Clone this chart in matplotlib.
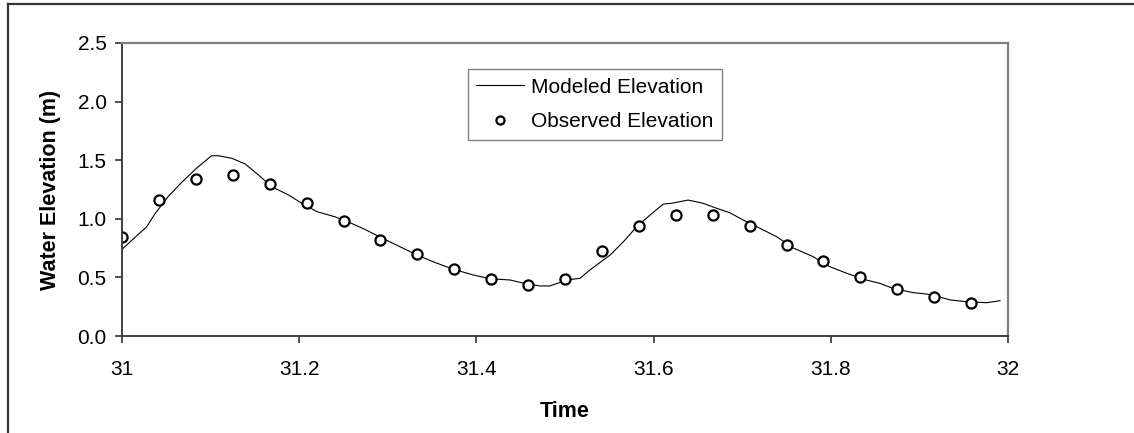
import numpy as np
import matplotlib
matplotlib.use("Agg")
import matplotlib.pyplot as plt
from matplotlib.lines import Line2D
from matplotlib.ticker import FuncFormatter, MultipleLocator

plt.rcParams["font.family"] = ["Liberation Sans", "DejaVu Sans"]

# modeled water elevation (time in days, elevation in m)
model_t = [31.000, 31.028, 31.037, 31.052, 31.067, 31.084, 31.101, 31.109,
           31.124, 31.139, 31.154, 31.169, 31.188, 31.203, 31.220, 31.240,
           31.255, 31.274, 31.291, 31.333, 31.351, 31.374, 31.397, 31.415,
           31.438, 31.457, 31.472, 31.483, 31.502, 31.517, 31.528, 31.540,
           31.551, 31.566, 31.581, 31.596, 31.611, 31.620, 31.639, 31.656,
           31.671, 31.686, 31.701, 31.720, 31.739, 31.758, 31.780, 31.799,
           31.818, 31.840, 31.855, 31.870, 31.893, 31.908, 31.919, 31.935,
           31.953, 31.976, 31.991]
model_h = [0.740, 0.933, 1.041, 1.189, 1.308, 1.431, 1.538, 1.538,
           1.516, 1.468, 1.374, 1.274, 1.203, 1.132, 1.061, 1.018,
           0.975, 0.910, 0.845, 0.691, 0.634, 0.569, 0.520, 0.489,
           0.478, 0.444, 0.427, 0.427, 0.478, 0.492, 0.563, 0.630,
           0.691, 0.805, 0.933, 1.032, 1.126, 1.132, 1.160, 1.132,
           1.090, 1.052, 0.990, 0.919, 0.847, 0.750, 0.677, 0.591,
           0.535, 0.478, 0.450, 0.407, 0.370, 0.358, 0.341, 0.307,
           0.293, 0.284, 0.301]

# observed water elevation (hourly)
obs_t = [31 + i / 24 for i in range(24)]
obs_h = [0.847, 1.158, 1.342, 1.376, 1.294, 1.137, 0.984, 0.816,
         0.697, 0.574, 0.486, 0.438, 0.489, 0.728, 0.936, 1.035,
         1.035, 0.936, 0.779, 0.643, 0.506, 0.401, 0.336, 0.284]

fig = plt.figure(figsize=(11.34, 4.33), dpi=100)
ax = fig.add_axes([122 / 1134, 97 / 433, 886 / 1134, 293 / 433])

ax.plot(model_t, model_h, color="black", lw=0.8, label="Modeled Elevation")
ax.plot(obs_t, obs_h, linestyle="none", marker="o", ms=7.3, mew=1.6,
        mfc="white", mec="black", label="Observed Elevation")

ax.set_xlim(31, 32)
ax.set_ylim(0, 2.5)
ax.xaxis.set_major_locator(MultipleLocator(0.2))
ax.yaxis.set_major_locator(MultipleLocator(0.5))
ax.xaxis.set_major_formatter(FuncFormatter(lambda v, p: "%g" % round(v, 1)))
ax.yaxis.set_major_formatter(FuncFormatter(lambda v, p: "%.1f" % v))
ax.tick_params(axis="both", direction="out", length=5, width=1.2,
               color="#333333", labelsize=15, pad=6)
ax.tick_params(axis="x", pad=12)

for side in ("left", "bottom"):
    ax.spines[side].set_color("#333333")
    ax.spines[side].set_linewidth(1.3)
for side in ("top", "right"):
    ax.spines[side].set_color("#808080")
    ax.spines[side].set_linewidth(1.6)

ax.set_xlabel("Time", fontsize=15.5, fontweight="bold", labelpad=16)
ax.set_ylabel("Water Elevation (m)", fontsize=15.5, fontweight="bold", labelpad=12)

leg = ax.legend(loc="upper left", bbox_to_anchor=(0.390, 0.910), borderaxespad=0,
                fontsize=15, frameon=True, fancybox=False, shadow=False,
                framealpha=1, edgecolor="#808080", handlelength=2.3,
                handletextpad=0.35, labelspacing=0.75, borderpad=0.4, markerscale=0.8)
leg.get_frame().set_linewidth(1.0)

# outer chart frame (top and left edges only visible)
fig.add_artist(Line2D([8 / 1134, 8 / 1134], [0, 1 - 4 / 433],
                      transform=fig.transFigure, color="#333333", lw=1.6))
fig.add_artist(Line2D([8 / 1134, 1], [1 - 4 / 433, 1 - 4 / 433],
                      transform=fig.transFigure, color="#333333", lw=1.6))

fig.savefig("out.png", dpi=100)
plt.close(fig)
